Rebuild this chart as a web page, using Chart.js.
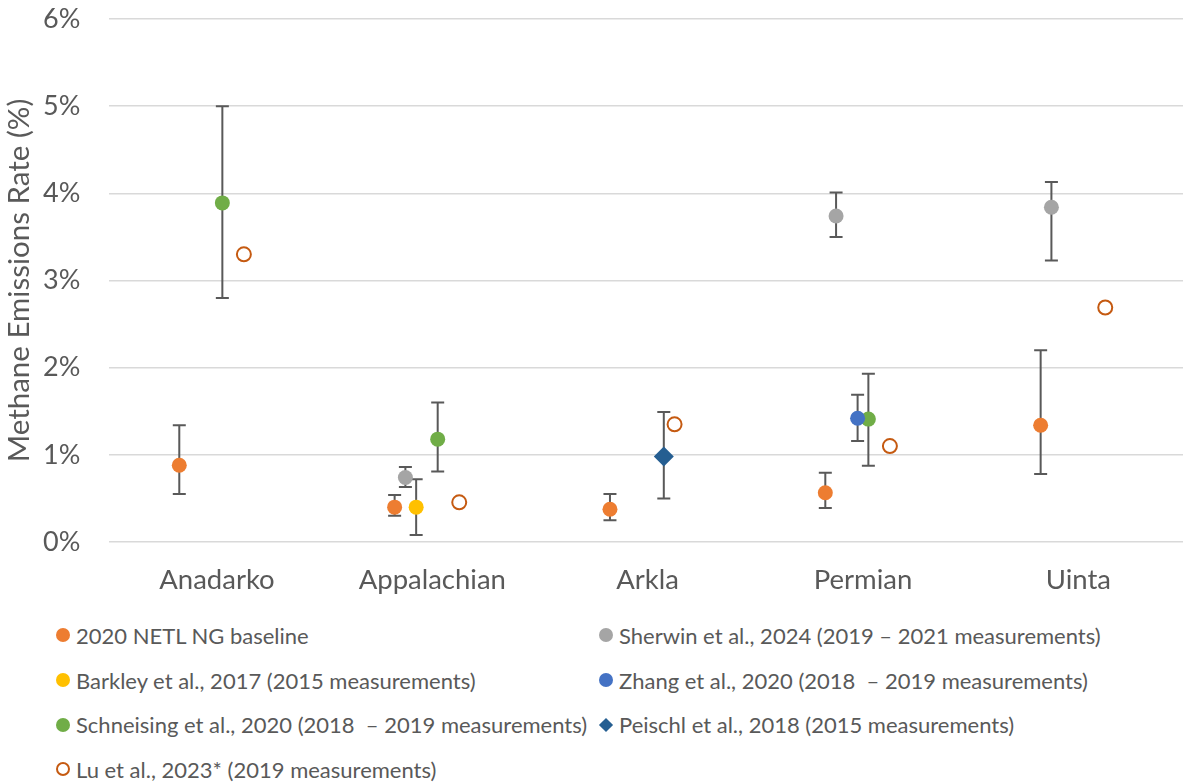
<!DOCTYPE html>
<html>
<head>
<meta charset="utf-8">
<script src="https://cdn.jsdelivr.net/npm/chart.js@4/dist/chart.umd.min.js"></script>
<style>
  html, body { margin: 0; padding: 0; background: #fff; overflow: hidden; }
  #wrap { position: relative; width: 1196px; height: 783px; }
  #c { position: absolute; left: 0; top: 0; }
  #legend { position: absolute; left: 56px; top: 613px; display: grid;
            grid-template-columns: 543px 560px; grid-auto-rows: 44.7px;
            font-family: Lato, "Open Sans", sans-serif; font-size: 22px; color: #595959; }
  .item { display: flex; align-items: center; white-space: pre; }
  .mk { display: inline-block; margin-right: 6px; flex: none; }
  .dot { width: 14px; height: 14px; border-radius: 50%; }
  .ring { width: 10px; height: 10px; border-radius: 50%; border: 2px solid #C55A11; }
  .dia { width: 10px; height: 10px; transform: rotate(45deg); margin-left: 2px; margin-right: 8px; }
</style>
</head>
<body>
<div id="wrap">
  <canvas id="c" width="1196" height="600" style="width:1196px;height:600px"></canvas>
  <div id="legend"></div>
</div>
<script>
// Basins on the category axis
const categories = ['Anadarko', 'Appalachian', 'Arkla', 'Permian', 'Uinta'];
const yTickValues = [0, 1, 2, 3, 4, 5, 6];

// Methane emission rates (% of production) with lower / upper bounds
const netlRate  = [0.88, 0.40, 0.375, 0.565, 1.34];
const netlLow   = [0.55, 0.30, 0.25, 0.39, 0.78];
const netlHigh  = [1.34, 0.54, 0.55, 0.795, 2.20];

const sherwinRate = [null, 0.74, null, 3.74, 3.84];
const sherwinLow  = [null, 0.63, null, 3.50, 3.23];
const sherwinHigh = [null, 0.86, null, 4.01, 4.13];

const barkleyRate = [null, 0.40, null, null, null];
const barkleyLow  = [null, 0.08, null, null, null];
const barkleyHigh = [null, 0.72, null, null, null];

const zhangRate = [null, null, null, 1.42, null];
const zhangLow  = [null, null, null, 1.16, null];
const zhangHigh = [null, null, null, 1.69, null];

const schneisingRate = [3.89, 1.18, null, 1.41, null];
const schneisingLow  = [2.80, 0.81, null, 0.875, null];
const schneisingHigh = [5.00, 1.60, null, 1.93, null];

const peischlRate = [null, null, 0.98, null, null];
const peischlLow  = [null, null, 0.50, null, null];
const peischlHigh = [null, null, 1.49, null, null];

const luRate = [3.30, 0.455, 1.35, 1.10, 2.69];

// Series definitions: label, values, bounds, slot within each category, marker look
const series = [
  { label: '2020 NETL NG baseline', rate: netlRate, low: netlLow, high: netlHigh, slot: 0, color: '#ED7D31', shape: 'dot' },
  { label: 'Sherwin et al., 2024 (2019 \u2013 2021 measurements)', rate: sherwinRate, low: sherwinLow, high: sherwinHigh, slot: 1, color: '#A5A5A5', shape: 'dot' },
  { label: 'Barkley et al., 2017 (2015 measurements)', rate: barkleyRate, low: barkleyLow, high: barkleyHigh, slot: 2, color: '#FFC000', shape: 'dot' },
  { label: 'Zhang et al., 2020 (2018  \u2013 2019 measurements)', rate: zhangRate, low: zhangLow, high: zhangHigh, slot: 3, color: '#4472C4', shape: 'dot' },
  { label: 'Schneising et al., 2020 (2018  \u2013 2019 measurements)', rate: schneisingRate, low: schneisingLow, high: schneisingHigh, slot: 4, color: '#70AD47', shape: 'dot' },
  { label: 'Peischl et al., 2018 (2015 measurements)', rate: peischlRate, low: peischlLow, high: peischlHigh, slot: 5, color: '#255E91', shape: 'dia' },
  { label: 'Lu et al., 2023* (2019 measurements)', rate: luRate, low: null, high: null, slot: 6, color: '#C55A11', shape: 'ring' }
];

const SLOT_WIDTH = 0.05;   // fraction of a category per series slot
const SLOT_COUNT = 8;

const datasets = series.map(s => {
  const off = (s.slot - (SLOT_COUNT - 1) / 2) * SLOT_WIDTH;
  const pts = [];
  s.rate.forEach((v, i) => {
    if (v !== null) pts.push({ x: i + off, y: v, lo: s.low ? s.low[i] : null, hi: s.high ? s.high[i] : null });
  });
  const ds = { label: s.label, data: pts, showLine: false };
  if (s.shape === 'ring') {
    Object.assign(ds, { pointStyle: 'circle', pointRadius: 7, pointBackgroundColor: '#FFFFFF', pointBorderColor: s.color, pointBorderWidth: 2 });
  } else if (s.shape === 'dia') {
    Object.assign(ds, { pointStyle: 'rectRot', pointRadius: 10, pointBackgroundColor: s.color, pointBorderColor: s.color, pointBorderWidth: 0 });
  } else {
    Object.assign(ds, { pointStyle: 'circle', pointRadius: 7.5, pointBackgroundColor: s.color, pointBorderColor: s.color, pointBorderWidth: 0 });
  }
  ds.pointHoverRadius = ds.pointRadius;
  return ds;
});

// Vertical error bars with caps, drawn underneath the markers
const errorBars = {
  id: 'errorBars',
  beforeDatasetsDraw(chart) {
    const ctx = chart.ctx;
    const y = chart.scales.y;
    ctx.save();
    ctx.strokeStyle = '#595959';
    ctx.lineWidth = 2;
    chart.data.datasets.forEach((ds, di) => {
      const meta = chart.getDatasetMeta(di);
      ds.data.forEach((p, j) => {
        if (p.lo === null || p.hi === null) return;
        const px = meta.data[j].x;
        const yLo = y.getPixelForValue(p.lo);
        const yHi = y.getPixelForValue(p.hi);
        const cap = 6.5;
        ctx.beginPath();
        ctx.moveTo(px, yLo); ctx.lineTo(px, yHi);
        ctx.moveTo(px - cap, yLo); ctx.lineTo(px + cap, yLo);
        ctx.moveTo(px - cap, yHi); ctx.lineTo(px + cap, yHi);
        ctx.stroke();
      });
    });
    ctx.restore();
  }
};

const textColor = '#595959';
const fontFamily = 'Lato, "Open Sans", sans-serif';

new Chart(document.getElementById('c'), {
  type: 'scatter',
  data: { datasets },
  plugins: [errorBars],
  options: {
    responsive: false,
    animation: false,
    layout: { padding: { top: 19, right: 0, bottom: 0, left: 0 } },
    plugins: { legend: { display: false }, tooltip: { enabled: false } },
    scales: {
      x: {
        type: 'linear',
        min: -0.5,
        max: 4.5,
        afterBuildTicks: scale => { scale.ticks = categories.map((_, i) => ({ value: i })); },
        afterFit: scale => { scale.height = 58; scale.paddingLeft = 0; scale.paddingRight = 0; },
        grid: { display: false, drawTicks: false },
        border: { display: false },
        ticks: {
          padding: 22,
          color: textColor,
          font: { family: fontFamily, size: 27.5 },
          callback: v => categories[v]
        }
      },
      y: {
        min: 0,
        max: 6,
        afterBuildTicks: scale => { scale.ticks = yTickValues.map(v => ({ value: v })); },
        afterFit: scale => { scale.width = 109.3; scale.paddingTop = 0; scale.paddingBottom = 0; },
        grid: { color: '#D9D9D9', lineWidth: 1.5, drawTicks: false },
        border: { display: false },
        ticks: {
          padding: 29,
          color: textColor,
          font: { family: fontFamily, size: 27 },
          callback: v => v + '%'
        },
        title: {
          display: true,
          text: 'Methane Emissions Rate (%)',
          color: textColor,
          font: { family: fontFamily, size: 29.5 },
          padding: { top: 2, bottom: 0 }
        }
      }
    }
  }
});

// Two-column legend, built from the series list
const legendEl = document.getElementById('legend');
series.forEach(s => {
  const item = document.createElement('div');
  item.className = 'item';
  const mk = document.createElement('span');
  mk.className = 'mk ' + s.shape;
  if (s.shape !== 'ring') mk.style.background = s.color;
  item.appendChild(mk);
  item.appendChild(document.createTextNode(s.label));
  legendEl.appendChild(item);
});
</script>
</body>
</html>
